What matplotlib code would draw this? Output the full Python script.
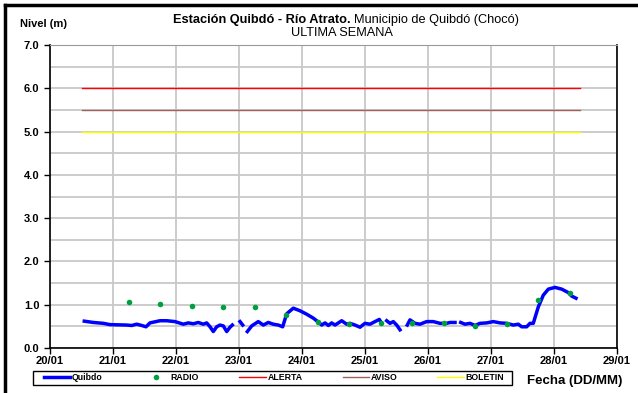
import matplotlib
matplotlib.use('Agg')
import matplotlib.pyplot as plt
import matplotlib.dates as mdates
from matplotlib.patches import Rectangle
import numpy as np

from datetime import datetime, timedelta

plt.rcParams['font.family'] = ['Liberation Sans', 'DejaVu Sans']

# Quibdo level series (day of January, level in m); NaN marks a gap
quibdo_day = [20.544, 20.687, 20.846, 20.952, 21.217, 21.297, 21.376, 21.456, 21.524, 21.587,
              21.746, 21.852, 21.984, 22.116, 22.195, 22.275, 22.354, 22.433, 22.487, 22.540,
              22.592, 22.646, 22.698, 22.751, 22.805, 22.857, 22.894, 22.95,
              23.016, 23.059, 23.09,
              23.132, 23.202, 23.306, 23.386, 23.465, 23.544, 23.624, 23.693, 23.757, 23.862,
              23.968, 24.075, 24.179, 24.259, 24.313, 24.365, 24.418, 24.471, 24.524, 24.630,
              24.709, 24.762, 24.841, 24.921, 25.000, 25.079, 25.159, 25.227, 25.265, 25.30,
              25.344, 25.397, 25.449, 25.503, 25.556, 25.61,
              25.671, 25.714, 25.794, 25.873, 25.979, 26.084, 26.190, 26.297, 26.349, 26.429, 26.47,
              26.519, 26.587, 26.667, 26.746, 26.825, 26.932, 27.037, 27.143, 27.249, 27.354,
              27.433, 27.487, 27.567, 27.619, 27.671, 27.751, 27.830, 27.910, 28.016, 28.122,
              28.227, 28.280, 28.349]
quibdo_level = [0.62, 0.59, 0.57, 0.54, 0.53, 0.52, 0.55, 0.52, 0.49, 0.58,
                0.63, 0.63, 0.61, 0.55, 0.58, 0.56, 0.59, 0.55, 0.58, 0.49,
                0.38, 0.49, 0.53, 0.51, 0.38, 0.48, 0.53, np.nan,
                0.61, 0.53, np.nan,
                0.38, 0.51, 0.61, 0.53, 0.59, 0.55, 0.53, 0.49, 0.79, 0.92,
                0.86, 0.78, 0.69, 0.60, 0.53, 0.58, 0.52, 0.58, 0.53, 0.63,
                0.55, 0.57, 0.53, 0.48, 0.57, 0.55, 0.61, 0.66, 0.57, np.nan,
                0.63, 0.57, 0.61, 0.53, 0.42, np.nan,
                0.53, 0.65, 0.57, 0.55, 0.61, 0.61, 0.57, 0.57, 0.59, 0.59, np.nan,
                0.59, 0.55, 0.57, 0.52, 0.57, 0.58, 0.61, 0.58, 0.57, 0.53,
                0.55, 0.49, 0.49, 0.57, 0.57, 0.95, 1.22, 1.36, 1.40, 1.36,
                1.28, 1.20, 1.15]

# radio reports
radio_day = [21.25, 21.75, 22.25, 22.75, 23.25, 23.75, 24.25, 24.75, 25.25, 25.75,
             26.25, 26.75, 27.25, 27.75, 28.25]
radio_level = [1.07, 1.02, 0.97, 0.95, 0.94, 0.76, 0.59, 0.55, 0.58, 0.57,
               0.58, 0.51, 0.55, 1.12, 1.26]

# threshold levels
alerta = 6.0
aviso = 5.5
boletin = 5.0
threshold_span = [20.5, 28.42]

base = datetime(2011, 1, 1)


def to_dates(days):
    return [base + timedelta(days=d - 1) for d in days]


fig = plt.figure(figsize=(6.38, 3.93), dpi=100)
ax = fig.add_axes([50 / 638, 1 - 348 / 393, 567 / 638, 303 / 393])

span = to_dates(threshold_span)
ax.plot(span, [alerta] * 2, color='#ff0000', lw=1.0, label='ALERTA', zorder=3)
ax.plot(span, [aviso] * 2, color='#a0605c', lw=1.0, label='AVISO', zorder=3)
ax.plot(span, [boletin] * 2, color='#ffff00', lw=1.0, label='BOLETIN', zorder=3)

ax.plot(to_dates(quibdo_day), quibdo_level, color='#0000ff', lw=2.5, label='Quibdo', zorder=4)
ax.plot(to_dates(radio_day), radio_level, 'o', color='#00a040', markersize=4,
        markeredgewidth=0, label='RADIO', zorder=5)

# axes limits and ticks
ax.set_xlim(to_dates([20, 29]))
ax.set_ylim(0, 7)
ax.xaxis.set_major_locator(mdates.DayLocator())
ax.xaxis.set_major_formatter(mdates.DateFormatter('%d/%m'))
ax.set_yticks(np.arange(0, 7.1, 1.0))
ax.set_yticks(np.arange(0.5, 7, 1.0), minor=True)
ax.yaxis.set_major_formatter(plt.FormatStrFormatter('%.1f'))
ax.tick_params(axis='both', which='major', labelsize=8, length=4, width=1, direction='out')
ax.tick_params(axis='y', which='minor', length=0)
ax.tick_params(axis='x', pad=2)
for lab in ax.get_xticklabels() + ax.get_yticklabels():
    lab.set_fontweight('bold')

ax.grid(which='both', color='#c8c8c8', lw=1.3)
ax.set_axisbelow(True)
for side in ['left', 'bottom', 'right']:
    ax.spines[side].set_color('black')
    ax.spines[side].set_linewidth(1.2)
ax.spines['top'].set_color('#999999')

# titles
fig.text(351 / 638, 1 - 19.5 / 393, 'Estación Quibdó - Río Atrato.', ha='right', va='center',
         fontsize=9.2, fontweight='bold')
fig.text(354 / 638, 1 - 19.5 / 393, 'Municipio de Quibdó (Chocó)', ha='left', va='center',
         fontsize=9.2)
fig.text(342 / 638, 1 - 33 / 393, 'ULTIMA SEMANA', ha='center', va='center', fontsize=9.2)
fig.text(20 / 638, 1 - 24 / 393, 'Nivel (m)', ha='left', va='center', fontsize=8,
         fontweight='bold')
fig.text(527 / 638, 1 - 381 / 393, 'Fecha (DD/MM)', ha='left', va='center', fontsize=9.5,
         fontweight='bold')

# legend: box drawn separately, entries spread inside it
fig.add_artist(Rectangle((33 / 638, 1 - 385 / 393), 479 / 638, 14 / 393, fill=False,
                         edgecolor='black', lw=1.0, transform=fig.transFigure))
handles, labels = ax.get_legend_handles_labels()
order = [3, 4, 0, 1, 2]
leg = fig.legend([handles[i] for i in order], [labels[i] for i in order],
                 loc='center', bbox_to_anchor=(44 / 638, 1 - 385 / 393, 460 / 638, 14 / 393),
                 mode='expand', ncol=5, frameon=False,
                 handlelength=3.0, handletextpad=0.2, borderpad=0.0, borderaxespad=0,
                 prop={'weight': 'bold', 'size': 6.3})

# outer frame (left and top edges visible in the crop)
fig.add_artist(plt.Line2D([4.5 / 638, 4.5 / 638], [0, 1 - 4.5 / 393], color='black', lw=2.5,
                          transform=fig.transFigure))
fig.add_artist(plt.Line2D([4.5 / 638, 1], [1 - 4.5 / 393, 1 - 4.5 / 393], color='black', lw=2.5,
                          transform=fig.transFigure))

plt.savefig('out.png', dpi=100)
plt.close()
